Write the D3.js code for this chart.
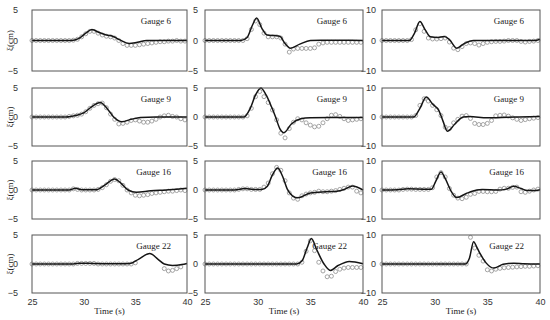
<!DOCTYPE html>
<html>
<head>
<meta charset="utf-8">
<script src="https://cdn.jsdelivr.net/npm/d3@7"></script>
<style>
  body { margin: 0; background: #fff; }
  svg { font-family: "Liberation Serif", "DejaVu Serif", serif; }
  .frame { fill: none; stroke: #555; stroke-width: 1; }
  .tick text { fill: #333; font-size: 9px; }
  .domain { display: none; }
</style>
</head>
<body>
<div class="chart"></div>
<script>
const width = 550;
const height = 320;

// gauge labels per row, y-axis limit per column
const gauges = ["Gauge 6", "Gauge 9", "Gauge 16", "Gauge 22"];
const yLimits = [5, 5, 10];
const xTicks = [25, 30, 35, 40];

// time of the measured samples (s)
const expTime = [25.0, 25.4, 25.8, 26.2, 26.6, 27.0, 27.4, 27.8, 28.2, 28.6,
  29.0, 29.4, 29.8, 30.2, 30.6, 31.0, 31.4, 31.8, 32.2, 32.6,
  33.0, 33.4, 33.8, 34.2, 34.6, 35.0, 35.4, 35.8, 36.2, 36.6,
  37.0, 37.4, 37.8, 38.2, 38.6, 39.0, 39.4, 39.8];

// simulated surface elevation [time, cm]
const sim6a = [[25,0],[28.8,0],[29.5,0.3],[30.2,1.2],[30.8,1.8],[31.5,1.3],[32.2,0.9],[32.8,0.7],[33.5,0.1],[34.4,-0.5],[35.2,-0.3],[36.1,0],[40,0]];
const sim6b = [[25,0],[28.4,0],[29.0,0.5],[29.5,2.5],[29.9,3.7],[30.4,2.0],[30.9,0.9],[31.6,0.8],[32.1,0.7],[32.6,-0.5],[33.1,-1.25],[34.0,-0.6],[35.0,0],[36,0.05],[40,0]];
const sim6c = [[25,0],[27.6,0],[28.1,2.5],[28.6,6.2],[29.1,3.5],[29.6,1.2],[30.3,1.0],[30.9,1.3],[31.4,0.3],[32.1,-2.5],[32.8,-1.0],[33.7,0],[39.5,0],[40,0.4]];
const sim9a = [[25,0],[28.3,0],[29.3,0.3],[30.0,0.7],[30.8,1.8],[31.6,2.5],[32.3,1.4],[32.9,0],[33.7,-0.8],[34.6,-0.4],[35.5,-0.1],[37,0],[40,0]];
const sim9b = [[25,0],[28.7,0],[29.3,1.5],[29.8,3.8],[30.3,5.0],[30.8,3.8],[31.3,1.8],[31.7,0],[32.1,-2.0],[32.5,-2.7],[33.2,-1.2],[34.1,-0.3],[35,-0.15],[37,-0.1],[40,-0.1]];
const sim9c = [[25,0],[28.0,0],[28.6,3.0],[29.2,6.9],[29.8,4.5],[30.4,2.2],[30.8,-1.5],[31.2,-4.9],[31.9,-2.5],[32.7,0],[33.3,0.2],[35,-0.3],[37,-0.1],[38,0],[40,0.2]];
const sim16a = [[25,0],[28.6,0],[29.2,0.3],[29.8,0.05],[31.2,0.05],[32.0,0.8],[33.0,1.9],[33.6,1.2],[34.3,0],[35.1,-0.4],[36.5,-0.15],[38,0],[39.5,0.2],[40,0.3]];
const sim16b = [[25,0],[27.8,0],[28.8,0.25],[29.6,0.1],[30.4,0.1],[30.9,0.6],[31.4,2.6],[31.9,3.8],[32.4,2.2],[32.8,0.2],[33.3,-1.0],[33.8,-1.35],[35,-0.5],[36.5,-0.3],[37.5,-0.2],[38.2,0.1],[39.0,0.7],[40,0]];
const sim16c = [[25,0],[26.5,0.1],[27.5,0.4],[29.0,0.3],[29.7,0.3],[30.1,3.0],[30.6,6.2],[31.0,4.0],[31.5,0],[32.1,-2.6],[33.0,-1.2],[34.0,0],[34.5,0.2],[36,0],[36.8,0.3],[37.5,1.3],[38.2,0.5],[38.8,-0.2],[39.4,-0.2],[40,0.1]];
const sim22a = [[25,0],[29,0],[29.6,0.15],[31,0.1],[33.5,0.05],[34.5,0.1],[35.3,0.8],[36.4,1.8],[37.2,0.8],[37.8,0],[38.6,-0.25],[39.5,-0.1],[40,0.1]];
const sim22b = [[25,0],[33.7,0],[34.2,0.5],[34.7,2.8],[35.1,4.4],[35.6,2.5],[36.3,0],[36.9,-1.1],[37.6,-0.3],[38.7,0.45],[40,0.05]];
const sim22c = [[25,0],[32.9,0],[33.3,2.0],[33.7,7.7],[34.0,5.8],[34.3,3.7],[34.9,0.3],[35.6,-1.4],[36.5,-0.1],[37.5,0.3],[38.5,0.1],[40,0]];

// measured surface elevation (cm) at expTime, null = no sample
const exp6a = [0,0,0,0,0,0,0,0,0,0,
  0.05,0.2,0.6,1.1,1.5,1.5,1.2,0.9,0.7,0.6,0.4,0,-0.5,-0.8,-0.8,-0.8,-0.7,-0.6,-0.5,-0.4,-0.3,-0.2,-0.2,-0.1,-0.1,0,-0.1,-0.1];
const exp6b = [0,0,0,0,0,0,0,0,0,0,
  0.3,1.8,3.2,2.6,1.2,0.6,0.6,0.6,0.4,-0.6,-1.9,-1.4,-1.3,-1.3,-1.3,-1.3,-1.2,-0.6,-0.4,-0.3,-0.3,-0.3,-0.3,-0.3,-0.3,-0.3,-0.3,-0.3];
const exp6c = [0,0,0,0,0,0,0,
  0.3,3.5,5.5,3.0,0.8,0.5,0.5,0.6,0.8,-0.5,-2.5,-3.0,-2.0,-1.0,-0.8,-1.0,-1.5,-1.0,-0.6,-0.4,-0.3,-0.3,-0.2,0,0,0,-0.3,-0.5,-0.3,-0.2,0];
const exp9a = [0,0,0,0,0,0,0,0,0,
  0.1,0.2,0.3,0.5,0.9,1.5,2.0,2.3,2.4,1.6,0.5,-0.4,-1.2,-1.1,-0.9,-0.6,-0.5,-0.7,-0.9,-0.9,-0.7,-0.4,0,0.2,0.3,0.1,0,-0.3,-0.5];
const exp9b = [0,0,0,0,0,0,0,0,0,0,
  0.2,1.5,3.5,4.4,3.5,2.5,1.2,-0.5,-2.8,-3.6,-2.0,-0.9,-0.3,-0.5,-1.0,-1.4,-1.7,-1.6,-1.0,-0.3,0.3,0.4,0.1,-0.3,-0.6,-0.5,-0.4,-0.3];
const exp9c = [0,0,0,0,0,0,0,0,
  0.5,4.0,6.3,5.5,4.0,2.5,0.5,-3.5,-4.0,-2.0,-0.8,0.3,0.5,-0.5,-2.2,-2.6,-2.6,-2.2,-1.2,0.4,0.6,0.7,0.3,-0.3,-0.8,-1.2,-0.9,-0.6,-0.4,-0.2];
const exp16a = [0,0,0,0,0,0,0,0,0,0,
  0.2,0.1,0,0,0,0,0.1,0.4,0.9,1.5,1.8,1.6,0.8,0,-0.5,-0.9,-1.0,-0.9,-0.8,-0.6,-0.5,-0.4,-0.3,-0.2,-0.2,-0.1,0,-0.1];
const exp16b = [0,0,0,0,0,0,0,0,
  0.1,0.2,0.2,0.1,0.1,0.1,0.5,1.2,2.8,3.9,3.4,1.6,-0.5,-1.4,-1.6,-1.0,-0.7,-0.5,-0.4,-0.2,-0.3,-0.3,-0.2,-0.1,0.1,0.3,0.5,0.5,-0.2,-0.5];
const exp16c = [0,0,0,0,0,
  0.2,0.3,0.3,0.2,0.2,0.2,0.2,0.8,4.5,6.0,4.5,0.5,-1.8,-2.8,-3.0,-2.5,-1.5,-1.2,-0.5,-0.5,-0.6,-0.6,-0.5,0.3,0.6,0.6,0.9,1.0,-0.6,-0.8,-0.4,0,0.3];
const exp22a = [0,0,0,0,0,0,0,0,0,0,0,
  0.1,0.1,0.1,0.1,0.1,0,0,0,0,0,0,0,0,0,0.2,null,null,null,null,null,null,-0.8,-1.2,-1.1,-0.8,-0.5,null];
const exp22b = [0,0,0,0,0,0,0,0,0,0,0,0,0,0,0,0,0,0,0,0,0,0,0,
  0.3,2.2,4.0,2.3,0.3,-1.2,-2.2,-2.1,-1.3,-0.9,-0.7,-0.6,-0.6,-0.6,-0.6];
const exp22c = [0,0,0,0,0,0,0,0,0,0,0,0,0,0,0,0,0,0,0,0,0,
  9.2,5.5,3.0,1.0,-2.0,-2.4,-1.8,-1.5,-1.3,-1.2,-1.1,-1.0,-0.9,-0.8,-0.8,-0.7,-0.6];

const simRows = [[sim6a, sim6b, sim6c], [sim9a, sim9b, sim9c], [sim16a, sim16b, sim16c], [sim22a, sim22b, sim22c]];
const expRows = [[exp6a, exp6b, exp6c], [exp9a, exp9b, exp9c], [exp16a, exp16b, exp16c], [exp22a, exp22b, exp22c]];

// panel layout
const colLeft = [32, 205, 382];
const colRight = [187, 363, 540];
const rowTop = [10, 88, 161, 235];
const rowBottom = [71, 146, 219, 293];
const tickPad = [14, 7, 6];

const svg = d3.select(".chart")
  .append("svg")
  .attr("width", width)
  .attr("height", height);

gauges.forEach((gauge, r) => {
  yLimits.forEach((lim, c) => {
    const x = d3.scaleLinear().domain([25, 40]).range([colLeft[c], colRight[c]]);
    const y = d3.scaleLinear().domain([-lim, lim]).range([rowBottom[r], rowTop[r]]);
    const g = svg.append("g");

    g.append("g")
      .attr("transform", `translate(${colLeft[c]},0)`)
      .call(d3.axisLeft(y).tickValues([-lim, 0, lim]).tickSize(0).tickPadding(tickPad[c]));

    if (r === gauges.length - 1) {
      g.append("g")
        .attr("transform", `translate(0,${rowBottom[r]})`)
        .call(d3.axisBottom(x).tickValues(xTicks).tickSize(0).tickPadding(6));
      g.append("text")
        .attr("x", (colLeft[c] + colRight[c]) / 2)
        .attr("y", 314)
        .attr("text-anchor", "middle")
        .attr("font-size", "9px")
        .attr("fill", "#222")
        .text("Time (s)");
    }

    // measured: hollow circles
    const pts = expTime.map((t, i) => [t, expRows[r][c][i]]).filter(d => d[1] != null);
    g.append("g").selectAll("circle")
      .data(pts)
      .enter()
      .append("circle")
      .attr("cx", d => x(d[0]))
      .attr("cy", d => y(d[1]))
      .attr("r", 2)
      .attr("fill", "none")
      .attr("stroke", "#9a9a9a")
      .attr("stroke-width", 0.9);

    // simulated: solid line
    const line = d3.line()
      .x(d => x(d[0]))
      .y(d => y(d[1]))
      .curve(d3.curveMonotoneX);
    g.append("path")
      .datum(simRows[r][c])
      .attr("d", line)
      .attr("fill", "none")
      .attr("stroke", "#151515")
      .attr("stroke-width", 1.5);

    g.append("rect")
      .attr("class", "frame")
      .attr("x", colLeft[c])
      .attr("y", rowTop[r])
      .attr("width", colRight[c] - colLeft[c])
      .attr("height", rowBottom[r] - rowTop[r]);

    g.append("text")
      .attr("x", colRight[c] - 16)
      .attr("y", rowTop[r] + 14)
      .attr("text-anchor", "end")
      .attr("font-size", "9px")
      .attr("fill", "#222")
      .text(gauge);
  });

  svg.append("text")
    .attr("transform", `translate(13,${(rowTop[r] + rowBottom[r]) / 2}) rotate(-90)`)
    .attr("text-anchor", "middle")
    .attr("font-size", "9px")
    .attr("fill", "#222")
    .text("ξ(cm)");
});
</script>
</body>
</html>
